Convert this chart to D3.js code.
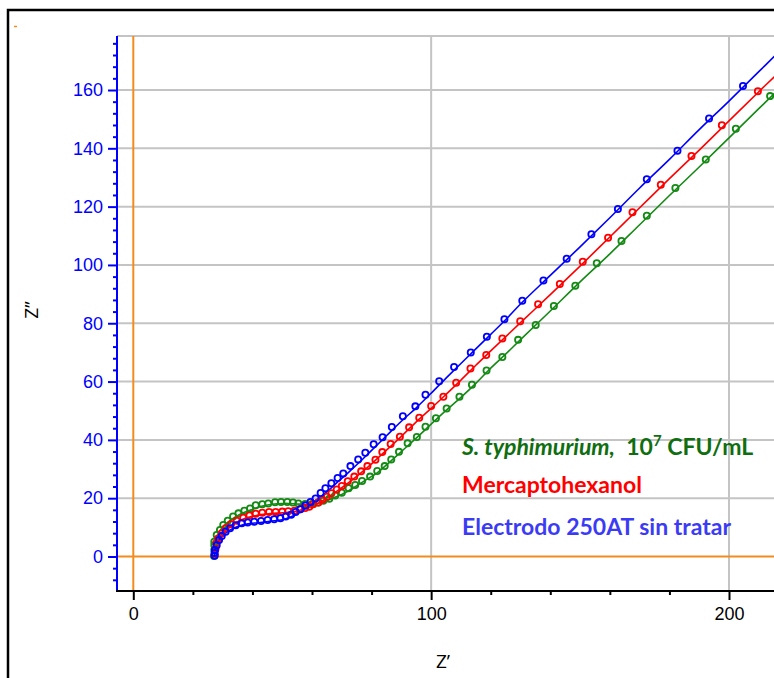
<!DOCTYPE html>
<html>
<head>
<meta charset="utf-8">
<script src="https://cdn.jsdelivr.net/npm/d3@7"></script>
<style>
  html, body { margin: 0; padding: 0; background: #fff; }
  svg { display: block; }
</style>
</head>
<body>
<svg id="chart" width="774" height="678"></svg>
<script>
// ---------- DATA (Z', Z'') ----------
const bareData = [[27.3,0.3],[27.3,1.2],[27.4,2.2],[28.0,3.9],[28.8,5.7],[29.7,7.0],[31.0,8.5],[32.5,9.7],[34.4,10.7],[36.4,11.4],[38.4,11.7],[40.6,11.9],[42.9,12.2],[45.1,12.5],[47.3,12.8],[49.4,13.1],[51.2,13.7],[53.0,14.3],[54.5,15.3],[56.1,16.2],[57.8,17.5],[59.5,18.7],[61.2,19.9],[62.9,21.8],[64.5,23.4],[66.5,25.1],[68.6,26.9],[70.5,28.5],[72.9,31.0],[75.5,33.3],[77.9,35.6],[80.7,38.5],[83.7,40.9],[86.8,44.4],[90.5,48.1],[94.7,51.5],[98.1,55.5],[102.7,60.1],[107.7,65.0],[113.3,70.0],[118.7,75.4],[124.6,81.4],[130.6,87.7],[137.7,94.7],[145.5,102.1],[153.8,110.5],[162.7,119.2],[172.4,129.4],[182.7,139.2],[193.3,150.2],[204.7,161.4]];
const mchData = [[27.3,0.5],[27.6,2.6],[27.9,4.6],[28.5,6.2],[29.7,8.0],[31.0,9.7],[32.8,11.1],[34.7,12.3],[36.9,13.3],[39.0,14.1],[41.1,14.7],[43.3,15.0],[45.6,15.3],[47.8,15.3],[50.0,15.4],[52.0,15.5],[54.1,15.7],[56.0,16.2],[57.7,16.6],[59.1,17.1],[60.4,17.9],[62.1,18.5],[63.5,19.5],[65.0,20.5],[66.5,21.7],[68.3,23.0],[70.0,24.2],[72.0,25.8],[74.2,27.4],[76.5,29.2],[78.6,31.0],[81.3,33.2],[83.6,35.8],[86.4,38.6],[89.5,41.1],[92.6,44.3],[96.0,47.6],[100.0,51.6],[104.1,54.8],[108.4,59.6],[113.2,64.5],[118.5,69.1],[123.9,74.8],[129.9,80.7],[135.9,86.5],[143.2,93.5],[150.9,101.1],[159.4,109.3],[167.6,118.1],[177.1,127.5],[187.4,137.4],[197.6,147.9],[209.7,159.6]];
const salmData = [[27.1,0.2],[27.2,2.2],[27.2,3.9],[27.2,5.1],[28.0,7.4],[29.1,9.1],[30.2,10.8],[31.7,12.3],[33.5,13.7],[35.3,14.8],[37.3,15.7],[39.2,16.5],[41.1,17.6],[43.3,17.9],[45.3,18.2],[47.6,18.6],[49.6,18.7],[51.7,18.7],[53.6,18.5],[55.4,18.2],[57.7,18.0],[60.0,18.0],[62.1,18.5],[63.8,19.1],[65.8,19.8],[67.8,20.9],[70.0,21.9],[72.3,23.4],[74.5,24.5],[76.8,25.9],[79.5,27.4],[81.9,29.3],[84.4,31.0],[86.6,33.3],[89.2,35.9],[92.1,38.8],[95.2,41.0],[98.1,44.5],[101.6,47.4],[105.2,50.8],[109.5,54.8],[113.7,58.9],[118.6,63.8],[123.9,68.4],[129.2,74.3],[135.1,79.4],[141.2,85.9],[148.4,92.9],[155.6,100.6],[163.9,108.2],[172.4,116.9],[182.0,126.4],[192.2,136.2],[202.3,146.7],[213.8,157.9]];

// fitted curves
const bareFit = [[27.3,0],[27.6,2],[28.3,4.3],[29.5,6.4],[31,8],[33,9.4],[35.5,10.5],[38.5,11.2],[42,11.6],[46,12.1],[50,12.6],[53,13.6],[56,15.2],[59,17.4],[62,19.8],[65,22.2],[68,25],[72,28.6],[76,32.4],[80,36.4],[85,41.4],[90,46.4],[95,51],[100,56],[105,61.2],[110,66.2],[115,71.2],[120,76.2],[125,81.2],[130,86.6],[140,96.4],[150,106.2],[160,116.2],[170,126.4],[180,136.2],[190,146.4],[200,156.2],[210,166.3],[216,172.3]];
const mchFit = [[27.2,0],[27.6,2.5],[28.4,5.5],[29.8,7.8],[31.5,9.6],[33.5,11],[36,12.4],[39,13.5],[42,14.2],[46,14.7],[50,15],[54,15.4],[57,16.2],[60,17.3],[63,18.8],[66,20.7],[70,23.6],[75,27.5],[80,31.8],[85,36.5],[90,41.2],[95,46.2],[100,50.8],[105,55.6],[110,60.5],[115,65.6],[120,70.5],[130,80.2],[140,89.8],[150,99.6],[160,109.6],[170,119.6],[180,129.6],[190,139.4],[200,149.4],[210,159.4],[216,165.3]];
const salmFit = [[27.1,0],[27.2,3],[27.6,5.5],[28.6,8],[30,10],[31.8,11.8],[34,13.4],[36.5,14.8],[39.5,16],[43,17.2],[46.5,17.9],[50,18.2],[54,18.1],[58,17.8],[61,18],[64,18.8],[67,20],[70,21.3],[74,23.6],[78,26.2],[82,28.8],[86,32.3],[90,36],[95,40.6],[100,45.4],[105,50.1],[110,54.6],[115,59.4],[120,64.6],[125,69.4],[130,74.4],[140,84.2],[150,94.2],[160,103.8],[170,113.8],[180,123.8],[190,133.6],[200,143.6],[210,153.6],[216,159.6]];

const xTickLabels = [0, 100, 200];
const yTickLabels = [0, 20, 40, 60, 80, 100, 120, 140, 160];
const xMinorTicks = [20, 40, 60, 80, 120, 140, 160, 180, 220];
const yMinorTicks = [-8,-4,4,8,12,16,24,28,32,36,44,48,52,56,64,68,72,76,84,88,92,96,104,108,112,116,124,128,132,136,144,148,152,156,164,168,172,176];
const xGrid = [100, 200];
const yGrid = [20, 40, 60, 80, 100, 120, 140, 160];
const xAxisTitle = "Z’";
const yAxisTitle = "Z’’";

// ---------- LAYOUT ----------
const svg = d3.select("#chart");
const x = d3.scaleLinear().domain([0, 200]).range([133.3, 729]);
const y = d3.scaleLinear().domain([0, 160]).range([556.5, 90]);
const L = 117, T = 36, B = 591, R = 800;

const COL = { blue: "#0000ff", red: "#ff0000", green: "#138a13", orange: "#f28c1e", grid: "#c4c4c4" };

// outer frame
svg.append("rect").attr("x", 8).attr("y", 10).attr("width", 820).attr("height", 720)
  .attr("fill", "none").attr("stroke", "#000").attr("stroke-width", 2.5);
svg.append("line").attr("x1", 14).attr("x2", 17).attr("y1", 26.5).attr("y2", 26.5)
  .attr("stroke", COL.orange).attr("stroke-width", 1.5);

svg.append("defs").append("clipPath").attr("id", "clip")
  .append("rect").attr("x", L).attr("y", T).attr("width", R - L).attr("height", B - T);

// grid
const grid = svg.append("g");
grid.selectAll(".gx").data(xGrid).join("line")
  .attr("x1", d => x(d)).attr("x2", d => x(d)).attr("y1", T).attr("y2", B)
  .attr("stroke", COL.grid).attr("stroke-width", 2);
grid.selectAll(".gy").data(yGrid).join("line")
  .attr("x1", L).attr("x2", R).attr("y1", d => y(d)).attr("y2", d => y(d))
  .attr("stroke", COL.grid).attr("stroke-width", 2);
grid.append("line").attr("x1", L).attr("x2", R).attr("y1", T).attr("y2", T)
  .attr("stroke", COL.grid).attr("stroke-width", 2);

// orange zero lines
svg.append("line").attr("x1", x(0)).attr("x2", x(0)).attr("y1", T).attr("y2", B)
  .attr("stroke", COL.orange).attr("stroke-width", 2);
svg.append("line").attr("x1", L).attr("x2", R).attr("y1", y(0)).attr("y2", y(0))
  .attr("stroke", COL.orange).attr("stroke-width", 2);

// Y axis
const yMajor = svg.append("g").attr("transform", `translate(${L},0)`)
  .call(d3.axisLeft(y).tickValues(yTickLabels).tickSize(9).tickPadding(5));
const yMinor = svg.append("g").attr("transform", `translate(${L},0)`)
  .call(d3.axisLeft(y).tickValues(yMinorTicks).tickSize(4).tickFormat(""));
[yMajor, yMinor].forEach(g => {
  g.select(".domain").remove();
  g.selectAll("line").attr("stroke", COL.blue).attr("stroke-width", 2);
});
yMajor.selectAll("text").attr("fill", COL.blue)
  .style("font-family", "'Liberation Sans', Arial, sans-serif").style("font-size", "18px");
svg.append("line").attr("x1", L).attr("x2", L).attr("y1", T).attr("y2", B)
  .attr("stroke", COL.blue).attr("stroke-width", 2);

// X axis
const xMajor = svg.append("g").attr("transform", `translate(0,${B})`)
  .call(d3.axisBottom(x).tickValues(xTickLabels).tickSize(9).tickPadding(7));
const xMinor = svg.append("g").attr("transform", `translate(0,${B})`)
  .call(d3.axisBottom(x).tickValues(xMinorTicks).tickSize(4).tickFormat(""));
[xMajor, xMinor].forEach(g => {
  g.select(".domain").remove();
  g.selectAll("line").attr("stroke", "#000").attr("stroke-width", 2);
});
xMajor.selectAll("text").attr("fill", "#000")
  .style("font-family", "'Liberation Sans', Arial, sans-serif").style("font-size", "18px");
svg.append("line").attr("x1", L - 1).attr("x2", R).attr("y1", B).attr("y2", B)
  .attr("stroke", "#000").attr("stroke-width", 2);

// axis titles
svg.append("text").attr("x", 443).attr("y", 668).attr("text-anchor", "middle")
  .style("font-family", "'Open Sans', sans-serif").style("font-size", "19px").attr("fill", "#000")
  .text(xAxisTitle);
svg.append("text").attr("transform", "translate(38,310) rotate(-90)").attr("text-anchor", "middle")
  .style("font-family", "'Open Sans', sans-serif").style("font-size", "19px").attr("fill", "#000")
  .text(yAxisTitle);

// series
const plot = svg.append("g").attr("clip-path", "url(#clip)");
const line = d3.line().x(d => x(d[0])).y(d => y(d[1])).curve(d3.curveCatmullRom.alpha(0.5));
const series = [
  { data: salmData, fit: salmFit, color: COL.green },
  { data: mchData, fit: mchFit, color: COL.red },
  { data: bareData, fit: bareFit, color: COL.blue }
];
series.forEach(s => {
  plot.append("path").datum(s.fit).attr("d", line)
    .attr("fill", "none").attr("stroke", s.color).attr("stroke-width", 1.6);
});
series.forEach(s => {
  plot.append("g").selectAll("circle").data(s.data).join("circle")
    .attr("cx", d => x(d[0])).attr("cy", d => y(d[1])).attr("r", 3.1)
    .attr("fill", "none").attr("stroke", s.color).attr("stroke-width", 1.8);
});

// legend
const lg = svg.append("g").style("font-family", "Lato, 'Open Sans', sans-serif")
  .style("font-weight", "bold").style("font-size", "23px");
const t1 = lg.append("text").attr("x", 462).attr("y", 455).attr("fill", "#0f6e0f");
t1.append("tspan").style("font-style", "italic").text("S. typhimurium,");
t1.append("tspan").text("\u00a0 10");
t1.append("tspan").attr("dy", -9).style("font-size", "15px").text("7");
t1.append("tspan").attr("dy", 9).text("\u00a0CFU/mL");
lg.append("text").attr("x", 462).attr("y", 493).attr("fill", "#ff0000").text("Mercaptohexanol");
lg.append("text").attr("x", 462).attr("y", 535).attr("fill", "#3b3bf5").text("Electrodo 250AT sin tratar");
</script>
</body>
</html>
